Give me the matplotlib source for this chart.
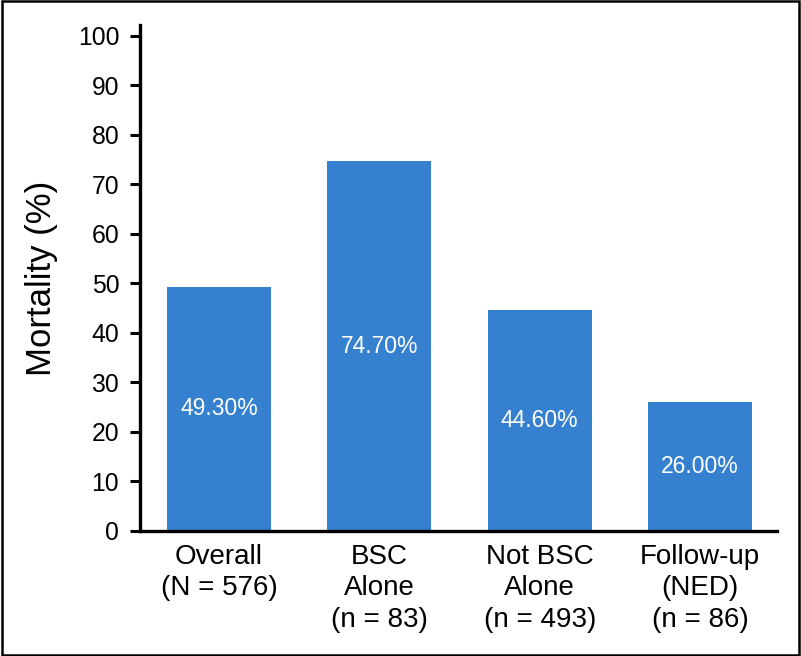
import matplotlib
matplotlib.use("Agg")
import matplotlib.pyplot as plt
from matplotlib.patches import Rectangle

categories = ["Overall\n(N = 576)", "BSC\nAlone\n(n = 83)", "Not BSC\nAlone\n(n = 493)", "Follow-up\n(NED)\n(n = 86)"]
values = [49.3, 74.7, 44.6, 26.0]
value_labels = ["49.30%", "74.70%", "44.60%", "26.00%"]
yticks = [0, 10, 20, 30, 40, 50, 60, 70, 80, 90, 100]

plt.rcParams['font.family'] = ['Liberation Sans', 'DejaVu Sans']

fig = plt.figure(figsize=(8.01, 6.56), dpi=100)
ax = fig.add_axes([140/801, 1-531/656, (777-140)/801, (531-25)/656])

x = list(range(len(values)))
bars = ax.bar(x, values, width=0.65, color='#3680D0', zorder=2)
for xi, v, lab in zip(x, values, value_labels):
    ax.text(xi, v/2, lab, ha='center', va='center', color='white', fontsize=16.5)

ax.set_xlim(-0.493, 3.48)
ax.set_ylim(0, 102.2)
ax.set_yticks(yticks)
ax.set_yticklabels([str(t) for t in yticks], fontsize=17.8)
ax.set_xticks(x)
ax.set_xticklabels(categories, fontsize=20, linespacing=1.29)
ax.tick_params(axis='x', length=0, pad=9)
ax.tick_params(axis='y', length=7, width=2.2, pad=8, direction='out')
for s in ['top', 'right']:
    ax.spines[s].set_visible(False)
for s in ['left', 'bottom']:
    ax.spines[s].set_linewidth(2.4)
ax.set_ylabel("Mortality (%)", fontsize=25, labelpad=14)

fig.patches.append(Rectangle((0.002, 0.002), 0.996, 0.996, transform=fig.transFigure,
                             fill=False, edgecolor='black', linewidth=1.8))

fig.savefig("out.png", dpi=100)
